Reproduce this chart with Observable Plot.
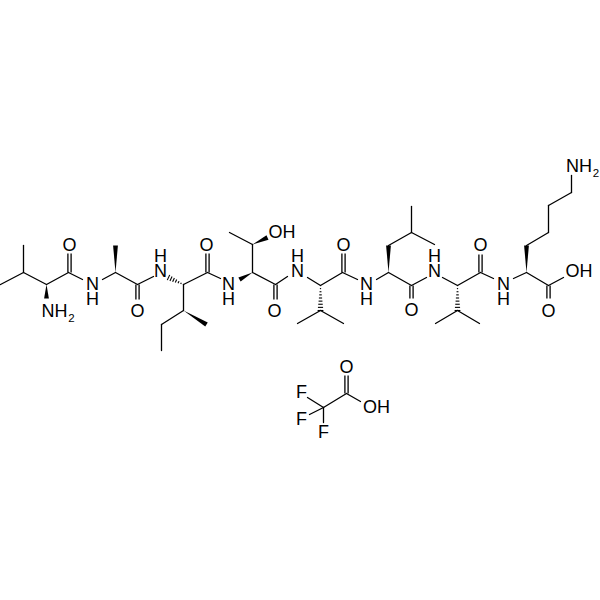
<!DOCTYPE html>
<html><head><meta charset="utf-8">
<style>html,body{margin:0;padding:0;background:#fff}svg{display:block}</style>
<script src="https://cdn.jsdelivr.net/npm/d3@7"></script>
<script src="https://cdn.jsdelivr.net/npm/@observablehq/plot@0.6"></script>
</head><body><script>
// single bonds: x1,y1,x2,y2
const singleBonds = [
 [0,284,23,272],[23,272,23,245],[23,272,46,284],[46,284,68,272],[68,272,82,279],
 [102,279,115,272],[115,272,137,284],[137,284,153,276],
 [183,284,207,272],[207,272,220,278],[183,284,183,310],[183,310,161,324],[161,324,161,350],
 [252,272,252,244],[252,244,229,232],[252,272,275,284],[275,284,287,276],
 [307,277,320,285],[320,285,342,272],[342,272,357,279],[320,310,297,323],[320,310,343,323],
 [376,279,388,272],[388,272,411,285],[411,285,426,277],[388,245,411,232],[411,232,411,206],[411,232,434,244],
 [442,277,457,285],[457,285,480,272],[480,272,493,278],[457,310,435,323],[457,310,479,323],
 [513,278,526,272],[526,272,548,285],[548,285,563,277],[526,245,548,232],[548,232,548,205],[548,205,571,192],[571,192,571,175],
 [346,393,360,401],[346,393,323,407],[323,407,307,397],[323,407,309,414],[323,407,323,422]
];
// double bonds: the carbonyl end and the oxygen end
const doubleBonds = [
 [69,272,69,253],[137,284,137,299],[207,272,207,253],[275,284,275,299],
 [343,272,343,253],[411,285,411,298],[480,272,480,254],[548,285,548,298],[346,393,346,375]
];
// solid wedges: narrow end, wide end
const wedges = [
 [46,284,46,298],[115,272,115,245],[183,310,206,324],[252,272,239,279],
 [252,244,267,237],[388,272,388,245],[526,272,526,245]
];
// hashed wedges: narrow end, wide end
const hashes = [[183,284,168,277],[320,285,320,310],[457,285,457,310]];
// atom labels: x,y,text
const atoms = [
 [69,246,"O"],[92,292.5,"N\nH"],[54,312,"NH"],
 [137,312,"O"],[160,264.5,"H\nN"],[206,246,"O"],[228,292,"N\nH"],
 [281.5,233,"OH"],[274,312,"O"],[297,264.5,"H\nN"],[343,246,"O"],
 [366,292.5,"N\nH"],[411,311,"O"],[434,264.5,"H\nN"],[480,246,"O"],
 [503,292.5,"N\nH"],[548,312,"O"],[578.5,272,"OH"],
 [578.5,167,"NH"],
 [346,368,"O"],[376,408,"OH"],[301,393,"F"],[301,420,"F"],[323,433,"F"]
];
const subscripts = [[71,317.5,"2"],[595.5,173,"2"]];

const wedgeShapes = wedges.flatMap(([a,b,c,d],i)=>{
  const l=Math.hypot(c-a,d-b),px=-(d-b)/l*2.4,py=(c-a)/l*2.4;
  return [[a,b],[c+px,d+py],[c-px,d-py],[a,b]].map(p=>({x:p[0],y:p[1],i}));
});
const hashLines = hashes.flatMap(([a,b,c,d])=>{
  const l=Math.hypot(c-a,d-b),ux=(c-a)/l,uy=(d-b)/l,n=Math.round(l/3);
  return d3.range(n+1).map(k=>{
    const t=k/n,w=.3+t*2.6,x=a+(c-a)*t,y=b+(d-b)*t;
    return {x1:x-uy*w,y1:y+ux*w,x2:x+uy*w,y2:y-ux*w};
  });
});
const doubleLines = doubleBonds.flatMap(([a,b,c,d])=>[[a-1.6,b,c-1.6,d],[a+1.6,b,c+1.6,d]]);
const lx = {x1:d=>d[0],y1:d=>d[1],x2:d=>d[2],y2:d=>d[3]};
const font = "Liberation Sans";
const chart = Plot.plot({
  width:600,height:600,margin:0,
  x:{domain:[0,600],range:[0,600],axis:null},
  y:{domain:[0,600],range:[0,600],axis:null},
  style:{background:"#fff"},
  marks:[
    Plot.link(singleBonds,{...lx,stroke:"#000",strokeWidth:1.3,strokeLinecap:"round"}),
    Plot.link(doubleLines,{...lx,stroke:"#000",strokeWidth:1.3}),
    Plot.link(hashLines,{x1:"x1",y1:"y1",x2:"x2",y2:"y2",stroke:"#000",strokeWidth:1.1}),
    Plot.line(wedgeShapes,{x:"x",y:"y",z:"i",fill:"#000",stroke:"none"}),
    Plot.text(atoms,{x:d=>d[0],y:d=>d[1],text:d=>d[2],fontSize:18,lineHeight:0.84,lineAnchor:"middle",fontFamily:font,fill:"#000"}),
    Plot.text(subscripts,{x:d=>d[0],y:d=>d[1],text:d=>d[2],fontSize:11.5,fontFamily:font,fill:"#000"})
  ]
});
document.body.appendChild(chart);
</script></body></html>
